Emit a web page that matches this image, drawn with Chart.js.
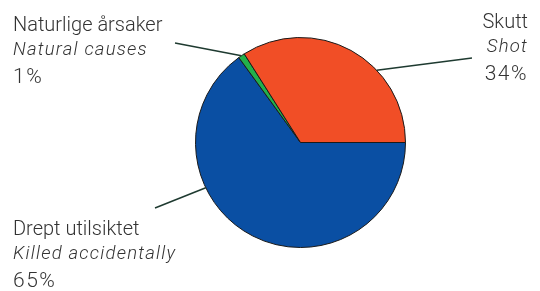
<!DOCTYPE html>
<html>
<head>
<meta charset="utf-8">
<script src="https://cdn.jsdelivr.net/npm/chart.js@4"></script>
<style>
  html, body { margin: 0; padding: 0; background: #fff; }
  #wrap { width: 540px; height: 291px; }
</style>
</head>
<body>
<div id="wrap"><canvas id="chart" width="540" height="291"></canvas></div>
<script>
const labelsNo = ["Drept utilsiktet", "Naturlige årsaker", "Skutt"];
const labelsEn = ["Killed accidentally", "Natural causes", "Shot"];
const values = [65, 1, 34];
const colors = ["#0a4fa3", "#22b04b", "#f14e26"];

// where each label sits and where its leader line goes
const layout = [
  { x: 13, y: 235, align: "left", lineTo: [155, 208], frac: 0.66 },
  { x: 13, y: 31, align: "left", lineTo: [175, 43], frac: 0.5 },
  { x: 528, y: 28, align: "right", lineTo: [472, 58], frac: 0.645 },
];

const labelPlugin = {
  id: "pieLabels",
  afterDatasetsDraw(chart) {
    const ctx = chart.ctx;
    const arcs = chart.getDatasetMeta(0).data;
    ctx.save();
    arcs.forEach((arc, i) => {
      const l = layout[i];
      const { x, y, startAngle, endAngle, outerRadius } = arc.getProps(
        ["x", "y", "startAngle", "endAngle", "outerRadius"], true);
      const a = startAngle + (endAngle - startAngle) * l.frac;
      ctx.strokeStyle = "#1e3a30";
      ctx.lineWidth = 1.5;
      ctx.beginPath();
      ctx.moveTo(x + Math.cos(a) * outerRadius, y + Math.sin(a) * outerRadius);
      ctx.lineTo(l.lineTo[0], l.lineTo[1]);
      ctx.stroke();

      ctx.fillStyle = "#333";
      ctx.textAlign = l.align;
      ctx.textBaseline = "alphabetic";
      ctx.letterSpacing = "0px";
      ctx.font = "300 20px Roboto, 'Liberation Sans', sans-serif";
      ctx.fillText(labelsNo[i], l.x, l.y);
      ctx.letterSpacing = "1.2px";
      ctx.font = "italic 300 18.5px Roboto, 'Liberation Sans', sans-serif";
      ctx.fillText(labelsEn[i], l.x, l.y + 24);
      ctx.letterSpacing = "1.5px";
      ctx.font = "300 21px Roboto, 'Liberation Sans', sans-serif";
      ctx.fillText(values[i] + "%", l.x, l.y + 52);
    });
    ctx.restore();
  },
};

new Chart(document.getElementById("chart"), {
  type: "pie",
  data: {
    labels: labelsNo,
    datasets: [{
      data: values,
      backgroundColor: colors,
      borderColor: "#1a1a1a",
      borderWidth: 1,
    }],
  },
  options: {
    responsive: false,
    animation: false,
    rotation: 90,
    layout: { padding: { top: 37, bottom: 43, left: 195, right: 134 } },
    plugins: { legend: { display: false }, tooltip: { enabled: false } },
  },
  plugins: [labelPlugin],
});
</script>
</body>
</html>
